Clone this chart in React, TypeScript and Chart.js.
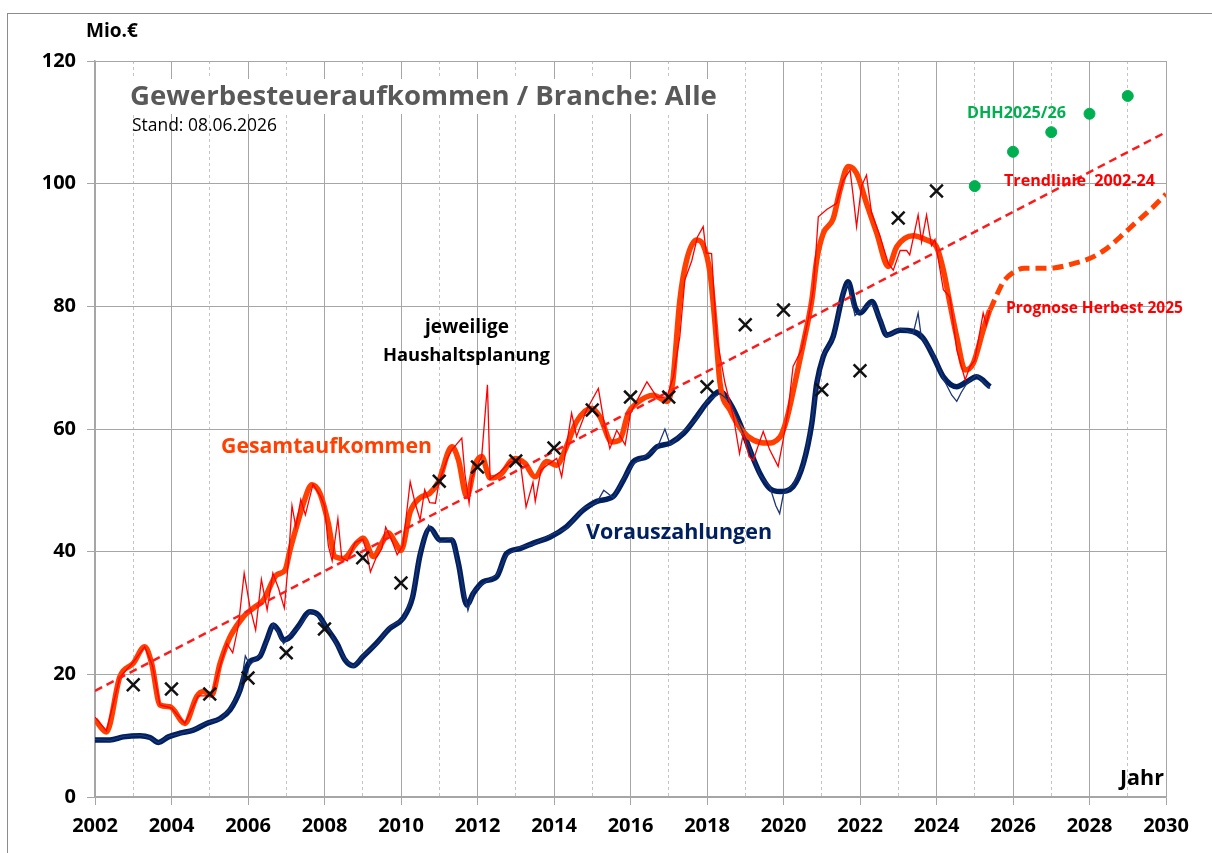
import React, { useEffect, useRef } from 'react';
import { Chart, registerables } from 'chart.js';
Chart.register(...registerables);

const FONT = '"Open Sans", "Noto Sans", sans-serif';

// ---- Data ----
const gesamtX = [2002.0, 2002.3, 2002.65, 2003.0, 2003.3, 2003.48, 2003.7, 2003.96, 2004.35, 2004.66, 2004.83, 2005.05, 2005.27, 2005.53, 2005.88, 2006.14, 2006.4, 2006.75, 2006.97, 2007.1, 2007.27, 2007.45, 2007.67, 2007.88, 2008.1, 2008.27, 2008.49, 2008.84, 2009.01, 2009.28, 2009.5, 2009.67, 2009.84, 2010.0, 2010.24, 2010.5, 2010.75, 2010.98, 2011.33, 2011.5, 2011.72, 2011.93, 2012.11, 2012.33, 2012.59, 2012.98, 2013.24, 2013.5, 2013.81, 2014.07, 2014.29, 2014.59, 2014.98, 2015.2, 2015.51, 2015.72, 2015.94, 2016.16, 2016.6, 2016.95, 2017.1, 2017.29, 2017.47, 2017.73, 2017.9, 2018.08, 2018.21, 2018.34, 2018.6, 2018.91, 2019.21, 2019.56, 2019.91, 2020.08, 2020.3, 2020.52, 2020.74, 2020.87, 2021.04, 2021.3, 2021.48, 2021.69, 2021.91, 2022.17, 2022.44, 2022.74, 2022.96, 2023.39, 2023.74, 2024.0, 2024.18, 2024.35, 2024.53, 2024.75, 2024.96, 2025.22, 2025.39];
const gesamtY = [12.6, 10.6, 19.6, 21.8, 24.5, 21.8, 15.0, 14.7, 12.0, 16.4, 17.2, 16.6, 21.8, 26.1, 29.4, 30.8, 32.1, 36.2, 37.0, 40.3, 44.1, 47.9, 50.9, 49.5, 44.6, 39.2, 38.9, 41.4, 42.2, 39.2, 41.4, 43.1, 41.6, 40.2, 46.5, 48.8, 49.5, 51.4, 57.1, 55.0, 49.0, 54.1, 55.5, 52.0, 52.5, 55.2, 54.4, 52.2, 54.7, 54.1, 56.6, 61.2, 63.4, 62.0, 57.9, 58.2, 62.6, 64.2, 65.5, 64.5, 67.5, 81.0, 87.6, 90.8, 90.0, 85.4, 77.2, 67.5, 63.1, 59.8, 58.2, 57.7, 58.7, 61.5, 67.5, 74.0, 81.0, 87.6, 91.9, 94.3, 99.0, 102.8, 101.7, 96.8, 91.9, 86.5, 89.7, 91.5, 90.8, 89.7, 85.9, 80.5, 75.0, 69.6, 70.7, 76.1, 79.4];

const gesamtRawX = [2002.0, 2002.3, 2002.65, 2003.0, 2003.3, 2003.5, 2003.7, 2004.0, 2004.35, 2004.7, 2005.05, 2005.3, 2005.45, 2005.6, 2005.75, 2005.9, 2006.05, 2006.2, 2006.35, 2006.5, 2006.65, 2006.8, 2006.95, 2007.05, 2007.15, 2007.25, 2007.38, 2007.5, 2007.7, 2007.9, 2008.0, 2008.1, 2008.2, 2008.35, 2008.45, 2008.6, 2008.8, 2009.0, 2009.1, 2009.2, 2009.35, 2009.5, 2009.6, 2009.75, 2009.9, 2010.05, 2010.24, 2010.37, 2010.5, 2010.62, 2010.75, 2010.9, 2011.0, 2011.2, 2011.33, 2011.59, 2011.67, 2011.78, 2011.85, 2012.11, 2012.26, 2012.33, 2012.59, 2012.85, 2013.11, 2013.27, 2013.45, 2013.51, 2013.66, 2013.89, 2014.07, 2014.2, 2014.46, 2014.59, 2014.85, 2015.16, 2015.33, 2015.46, 2015.64, 2015.86, 2016.0, 2016.25, 2016.43, 2016.69, 2016.95, 2017.12, 2017.29, 2017.42, 2017.6, 2017.75, 2017.9, 2017.98, 2018.12, 2018.2, 2018.25, 2018.47, 2018.69, 2018.85, 2018.95, 2019.1, 2019.21, 2019.35, 2019.47, 2019.64, 2019.86, 2019.99, 2020.12, 2020.25, 2020.47, 2020.65, 2020.78, 2020.91, 2021.13, 2021.39, 2021.56, 2021.74, 2021.82, 2021.91, 2022.04, 2022.17, 2022.3, 2022.52, 2022.74, 2022.87, 2023.05, 2023.22, 2023.3, 2023.52, 2023.61, 2023.74, 2023.87, 2023.96, 2024.18, 2024.35, 2024.53, 2024.75, 2024.87, 2025.0, 2025.22, 2025.3, 2025.39];
const gesamtRawY = [13.0, 10.8, 19.5, 22.0, 24.5, 21.5, 15.0, 14.5, 12.0, 16.5, 16.5, 22.0, 25.0, 23.5, 28.0, 36.5, 31.0, 27.2, 35.5, 30.5, 36.5, 34.0, 30.8, 38.0, 47.5, 44.0, 48.5, 46.0, 51.0, 49.0, 47.5, 41.0, 38.5, 45.4, 39.0, 38.5, 41.5, 42.0, 40.0, 36.7, 39.0, 40.5, 44.0, 42.0, 39.5, 41.0, 51.4, 47.9, 45.2, 50.1, 48.0, 47.9, 51.5, 55.0, 56.6, 58.5, 52.7, 47.9, 52.0, 55.5, 67.2, 51.8, 53.0, 54.6, 55.0, 47.3, 51.3, 48.2, 53.3, 54.4, 55.2, 52.2, 62.6, 58.8, 63.1, 66.6, 60.3, 56.8, 59.8, 57.4, 62.6, 65.6, 67.7, 65.2, 65.2, 68.5, 75.1, 84.3, 87.4, 91.3, 93.0, 88.7, 88.6, 80.4, 75.1, 67.5, 62.0, 56.0, 59.3, 55.5, 54.9, 57.5, 59.6, 56.6, 53.9, 58.2, 63.0, 70.2, 72.9, 78.0, 82.7, 94.6, 95.8, 96.8, 100.5, 102.2, 98.1, 93.0, 99.6, 101.4, 95.3, 91.5, 87.0, 85.9, 89.1, 89.1, 88.4, 94.9, 90.5, 94.9, 89.9, 90.9, 82.7, 81.5, 72.9, 68.0, 70.1, 71.2, 78.9, 77.0, 79.4];

const vorausX = [2002.0, 2002.39, 2002.74, 2003.18, 2003.44, 2003.66, 2003.92, 2004.22, 2004.57, 2004.92, 2005.27, 2005.53, 2005.79, 2005.97, 2006.05, 2006.31, 2006.49, 2006.66, 2006.79, 2006.93, 2007.1, 2007.31, 2007.62, 2007.84, 2008.06, 2008.32, 2008.54, 2008.75, 2009.01, 2009.36, 2009.71, 2010.06, 2010.3, 2010.5, 2010.76, 2011.02, 2011.33, 2011.5, 2011.72, 2011.89, 2012.15, 2012.5, 2012.76, 2013.11, 2013.46, 2013.9, 2014.33, 2014.77, 2015.12, 2015.55, 2015.82, 2016.08, 2016.43, 2016.69, 2017.04, 2017.39, 2017.73, 2017.99, 2018.34, 2018.6, 2018.86, 2019.12, 2019.38, 2019.64, 2019.91, 2020.25, 2020.52, 2020.74, 2020.87, 2021.04, 2021.3, 2021.56, 2021.69, 2021.87, 2022.0, 2022.31, 2022.52, 2022.7, 2023.05, 2023.39, 2023.65, 2023.92, 2024.18, 2024.53, 2024.79, 2025.05, 2025.4];
const vorausY = [9.3, 9.3, 9.8, 10.0, 9.7, 8.9, 9.8, 10.4, 10.9, 12.0, 12.8, 14.2, 17.4, 21.2, 22.1, 22.9, 25.6, 28.0, 27.2, 25.6, 26.1, 27.8, 30.2, 29.7, 27.5, 25.1, 22.3, 21.4, 22.9, 25.1, 27.5, 29.2, 32.5, 39.5, 43.8, 41.9, 41.9, 38.1, 31.3, 33.2, 35.1, 35.9, 39.7, 40.5, 41.4, 42.4, 44.1, 46.8, 48.2, 49.0, 51.7, 54.7, 55.5, 57.1, 57.7, 59.3, 62.0, 64.2, 66.1, 64.2, 60.9, 56.6, 52.8, 50.3, 49.8, 50.6, 54.4, 60.9, 67.5, 71.8, 75.1, 82.1, 84.0, 79.9, 78.9, 80.8, 77.8, 75.3, 76.1, 75.9, 74.8, 71.8, 68.5, 66.9, 67.7, 68.5, 66.9];

const vorausRawX = [2002.0, 2002.4, 2002.75, 2003.2, 2003.45, 2003.66, 2003.92, 2004.22, 2004.57, 2004.92, 2005.27, 2005.53, 2005.79, 2005.93, 2006.05, 2006.31, 2006.49, 2006.66, 2006.79, 2006.93, 2007.1, 2007.31, 2007.62, 2007.84, 2008.06, 2008.32, 2008.54, 2008.75, 2009.01, 2009.36, 2009.71, 2010.06, 2010.3, 2010.5, 2010.72, 2011.02, 2011.33, 2011.5, 2011.75, 2011.89, 2012.15, 2012.5, 2012.76, 2013.11, 2013.46, 2013.9, 2014.33, 2014.77, 2015.12, 2015.3, 2015.55, 2015.82, 2016.08, 2016.43, 2016.69, 2016.9, 2017.04, 2017.39, 2017.73, 2017.99, 2018.34, 2018.6, 2018.86, 2019.12, 2019.38, 2019.64, 2019.8, 2019.9, 2020.0, 2020.25, 2020.52, 2020.74, 2020.87, 2021.04, 2021.3, 2021.56, 2021.69, 2021.87, 2022.0, 2022.31, 2022.52, 2022.7, 2023.05, 2023.39, 2023.52, 2023.6, 2023.92, 2024.18, 2024.4, 2024.53, 2024.65, 2024.79, 2025.05, 2025.4];
const vorausRawY = [9.4, 9.2, 9.9, 10.1, 9.6, 8.8, 9.9, 10.3, 11.0, 12.1, 12.7, 14.4, 17.2, 23.0, 21.5, 23.2, 25.3, 28.3, 26.8, 25.0, 26.4, 27.5, 30.4, 29.5, 27.8, 24.8, 22.5, 21.2, 23.1, 24.9, 27.8, 29.0, 32.8, 40.0, 44.3, 41.6, 42.2, 37.8, 30.4, 33.5, 34.8, 36.2, 39.4, 40.8, 41.2, 42.7, 43.8, 47.1, 48.0, 50.0, 48.8, 52.0, 54.4, 55.8, 56.8, 60.0, 57.4, 59.6, 61.7, 64.5, 65.8, 64.5, 60.6, 56.9, 52.5, 50.6, 47.5, 46.2, 49.5, 50.9, 54.1, 61.2, 67.2, 72.1, 74.8, 82.4, 83.7, 78.5, 79.2, 80.5, 78.1, 75.0, 76.4, 75.6, 78.9, 75.1, 72.1, 68.2, 65.5, 64.5, 66.0, 67.4, 68.8, 66.6];

const planYears = [2003, 2004, 2005, 2006, 2007, 2008, 2009, 2010, 2011, 2012, 2013, 2014, 2015, 2016, 2017, 2018, 2019, 2020, 2021, 2022, 2023, 2024];
const planValues = [18.3, 17.6, 16.8, 19.4, 23.5, 27.4, 39.0, 34.9, 51.5, 53.8, 54.8, 56.9, 63.1, 65.2, 65.2, 66.9, 77.0, 79.4, 66.4, 69.5, 94.4, 98.8];

const dhhYears = [2025, 2026, 2027, 2028, 2029];
const dhhValues = [99.6, 105.2, 108.4, 111.4, 114.3];

const trendYears = [2002, 2030];
const trendValues = [17.3, 108.4];

const progYears = [2025.4, 2025.55, 2025.75, 2026.0, 2026.3, 2026.7, 2027.1, 2027.6, 2028.0, 2028.4, 2028.8, 2029.2, 2029.6, 2030.0];
const progValues = [79.4, 81.5, 84.0, 85.5, 86.2, 86.2, 86.3, 87.0, 87.8, 89.2, 91.3, 93.6, 95.8, 98.3];

const xMin = 2002;
const xMax = 2030;
const yMin = 0;
const yMax = 120;
const yStep = 20;

const pts = (xs: number[], ys: number[]) => xs.map((x, i) => ({ x, y: ys[i] }));

let measureCtx: CanvasRenderingContext2D | null = null;
function fitSize(text: string, weight: number, width: number): number {
  if (!measureCtx) measureCtx = document.createElement('canvas').getContext('2d');
  if (!measureCtx) return 16;
  measureCtx.font = `${weight} 100px ${FONT}`;
  const w = measureCtx.measureText(text).width;
  return (100 * width) / w;
}

function Label(props: { text: string; x1: number; x2: number; cy: number; weight?: number; color?: string }) {
  const weight = props.weight ?? 700;
  const fs = fitSize(props.text, weight, props.x2 - props.x1);
  return (
    <div
      style={{
        position: 'absolute',
        left: props.x1,
        top: props.cy - 0.53 * fs,
        fontFamily: FONT,
        fontWeight: weight,
        fontSize: fs,
        lineHeight: `${fs}px`,
        color: props.color ?? '#000',
        whiteSpace: 'pre',
      }}
    >
      {props.text}
    </div>
  );
}

export default function App() {
  const ref = useRef<HTMLCanvasElement | null>(null);

  useEffect(() => {
    if (!ref.current) return;
    const odd = (c: any) => c.tick && Math.round(c.tick.value) % 2 !== 0;
    const chart = new Chart(ref.current, {
      type: 'line',
      data: {
        datasets: [
          {
            label: 'DHH2025/26',
            data: pts(dhhYears, dhhValues),
            showLine: false,
            pointRadius: 5.5,
            pointStyle: 'circle',
            backgroundColor: '#00b050',
            borderColor: '#00b050',
            order: 1,
          },
          {
            label: 'Haushaltsplanung',
            data: pts(planYears, planValues),
            showLine: false,
            pointRadius: 9,
            pointStyle: 'crossRot',
            pointBorderWidth: 2.5,
            borderColor: '#111',
            backgroundColor: '#111',
            order: 2,
          },
          {
            label: 'Trendlinie',
            data: pts(trendYears, trendValues),
            borderColor: '#ff1a1a',
            borderWidth: 2.5,
            borderDash: [8, 5],
            pointRadius: 0,
            order: 4,
          },
          {
            label: 'Prognose',
            data: pts(progYears, progValues),
            borderColor: '#ff4000',
            borderWidth: 5,
            borderDash: [11, 6],
            pointRadius: 0,
            cubicInterpolationMode: 'monotone',
            order: 5,
          },
          {
            label: 'Gesamt roh',
            data: pts(gesamtRawX, gesamtRawY),
            borderColor: '#ff0000',
            borderWidth: 1.3,
            pointRadius: 0,
            tension: 0,
            order: 6,
          },
          {
            label: 'Voraus roh',
            data: pts(vorausRawX, vorausRawY),
            borderColor: '#1c3575',
            borderWidth: 1.3,
            pointRadius: 0,
            tension: 0,
            order: 7,
          },
          {
            label: 'Gesamtaufkommen',
            data: pts(gesamtX, gesamtY),
            borderColor: '#ff4000',
            borderWidth: 5.5,
            pointRadius: 0,
            cubicInterpolationMode: 'monotone',
            order: 8,
          },
          {
            label: 'Vorauszahlungen',
            data: pts(vorausX, vorausY),
            borderColor: '#002060',
            borderWidth: 5.5,
            pointRadius: 0,
            cubicInterpolationMode: 'monotone',
            order: 9,
          },
        ],
      },
      options: {
        animation: false,
        responsive: false,
        maintainAspectRatio: false,
        layout: { padding: { left: 0, right: 46, top: 61, bottom: 0 } },
        plugins: { legend: { display: false }, tooltip: { enabled: false } },
        scales: {
          x: {
            type: 'linear',
            min: xMin,
            max: xMax,
            afterFit: (s: any) => {
              s.height = 56;
            },
            ticks: {
              stepSize: 1,
              autoSkip: false,
              maxRotation: 0,
              padding: 9,
              color: '#000',
              font: { family: FONT, size: 20, weight: 'bold' },
              callback: (v: any) => (Math.round(v) % 2 === 0 ? String(v) : ''),
            },
            grid: {
              color: (c: any) => (odd(c) ? '#c4c4c4' : '#a6a6a6'),
              lineWidth: 1,
              tickLength: 8,
              tickColor: (c: any) => (odd(c) ? 'rgba(0,0,0,0)' : '#a6a6a6'),
            },
            border: {
              color: '#a6a6a6',
              width: 1.5,
              dash: (c: any) => (odd(c) ? [3, 3] : []),
            },
          },
          y: {
            min: yMin,
            max: yMax,
            afterFit: (s: any) => {
              s.width = 95;
            },
            ticks: {
              stepSize: yStep,
              padding: 11,
              color: '#000',
              font: { family: FONT, size: 20, weight: 'bold' },
            },
            grid: { color: '#a6a6a6', lineWidth: 1, tickLength: 8, tickColor: '#a6a6a6' },
            border: { color: '#a6a6a6', width: 1.5 },
          },
        },
      },
    } as any);
    return () => chart.destroy();
  }, []);

  return (
    <div style={{ position: 'absolute', left: 0, top: 0, width: 1212, height: 853, overflow: 'hidden', background: '#fff' }}>
      <div style={{ position: 'absolute', left: 7, top: 13, width: 1300, height: 900, border: '1px solid #8c8c8c' }} />
      <canvas ref={ref} width={1212} height={853} style={{ position: 'absolute', left: 0, top: 0, display: 'block' }} />
      <div style={{ position: 'absolute', left: 120, top: 79, width: 606, height: 35, background: '#fff' }} />
      <Label text="Mio.€" x1={86} x2={138} cy={31} />
      <Label text="Gewerbesteueraufkommen / Branche: Alle" x1={130} x2={717} cy={96} color="#595959" />
      <Label text="Stand: 08.06.2026" x1={132} x2={277} cy={125} weight={400} />
      <Label text="DHH2025/26" x1={967} x2={1066} cy={113} color="#00b050" />
      <Label text="Trendlinie  2002-24" x1={1004} x2={1155} cy={181} color="#ff0000" />
      <Label text="Prognose Herbest 2025" x1={1006} x2={1183} cy={308} color="#ff0000" />
      <Label text="jeweilige" x1={425} x2={509} cy={327} />
      <Label text="Haushaltsplanung" x1={383} x2={550} cy={355} />
      <Label text="Gesamtaufkommen" x1={221} x2={432} cy={445} color="#ff4000" />
      <Label text="Vorauszahlungen" x1={586} x2={772} cy={531} color="#002060" />
      <Label text="Jahr" x1={1120} x2={1164} cy={777} />
    </div>
  );
}
